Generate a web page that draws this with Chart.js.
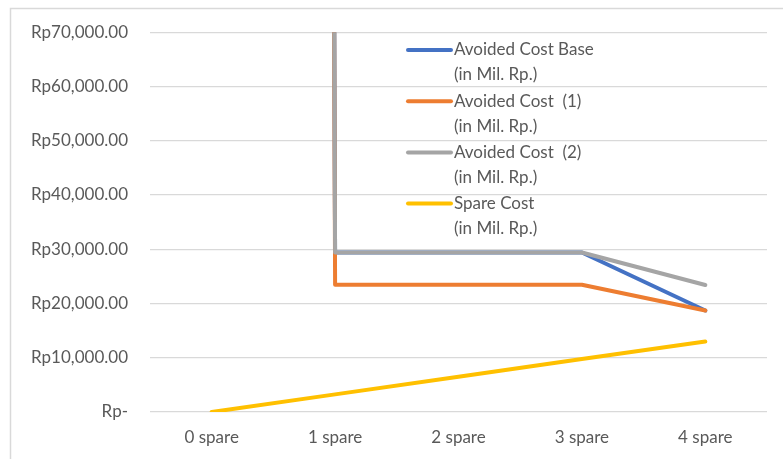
<!DOCTYPE html>
<html>
<head>
<meta charset="utf-8">
<script src="https://cdn.jsdelivr.net/npm/chart.js@4"></script>
<style>
  html, body { margin: 0; padding: 0; background: #ffffff; }
  #wrap { position: relative; width: 783px; height: 459px; }
</style>
</head>
<body>
<div id="wrap"><canvas id="c" width="783" height="459"></canvas></div>
<script>
// ---- data ----
const categories = ["0 spare", "1 spare", "2 spare", "3 spare", "4 spare"];
// value at "0 spare" is far off the scale (line runs vertically out of the top)
const avoidedCostBase = [100000000, 29400, 29400, 29400, 18700];
const avoidedCost1    = [100000000, 23450, 23450, 23450, 18700];
const avoidedCost2    = [100000000, 29400, 29400, 29400, 23400];
const spareCost       = [0, 3250, 6500, 9750, 13000];
const seriesNames = [
  ["Avoided Cost Base", "(in Mil. Rp.)"],
  ["Avoided Cost  (1)", "(in Mil. Rp.)"],
  ["Avoided Cost  (2)", "(in Mil. Rp.)"],
  ["Spare Cost", "(in Mil. Rp.)"]
];
const seriesColors = ["#4472C4", "#ED7D31", "#A5A5A5", "#FFC000"];
const yMin = 0, yMax = 70000, yStep = 10000;

const FONT = "Lato";
const TEXT = "#595959";

function fmtRp(v) {
  if (v === 0) return "Rp-";
  return "Rp" + v.toLocaleString("en-US", { minimumFractionDigits: 2, maximumFractionDigits: 2 });
}

const framePlugin = {
  id: "frame",
  beforeDraw(chart) {
    const ctx = chart.ctx;
    ctx.save();
    ctx.fillStyle = "#ffffff";
    ctx.fillRect(0, 0, chart.width, chart.height);
    ctx.strokeStyle = "#D9D9D9";
    ctx.lineWidth = 1.5;
    ctx.beginPath();
    ctx.moveTo(10.5, chart.height);
    ctx.lineTo(10.5, 8.5);
    ctx.lineTo(chart.width, 8.5);
    ctx.stroke();
    ctx.restore();
  }
};

const legendPlugin = {
  id: "customLegend",
  afterDraw(chart) {
    const ctx = chart.ctx;
    ctx.save();
    ctx.font = "17px " + FONT;
    ctx.fillStyle = TEXT;
    ctx.textBaseline = "middle";
    ctx.textAlign = "left";
    chart.data.datasets.forEach((ds, i) => {
      const y = 50 + i * 51.2;
      ctx.strokeStyle = ds.borderColor;
      ctx.lineWidth = 4;
      ctx.lineCap = "round";
      ctx.beginPath();
      ctx.moveTo(408, y);
      ctx.lineTo(451, y);
      ctx.stroke();
      seriesNames[i].forEach((t, j) => ctx.fillText(t, 454, y + j * 25));
    });
    ctx.restore();
  }
};

const seriesData = [avoidedCostBase, avoidedCost1, avoidedCost2, spareCost];
const datasets = seriesData.map((d, i) => ({
  label: seriesNames[i].join(" "),
  data: d,
  order: seriesData.length - i,
  borderColor: seriesColors[i],
  backgroundColor: seriesColors[i],
  borderWidth: 4,
  pointRadius: 0,
  pointHoverRadius: 0,
  tension: 0,
  borderCapStyle: "round",
  borderJoinStyle: "round",
  fill: false
}));

new Chart(document.getElementById("c"), {
  type: "line",
  data: { labels: categories, datasets },
  options: {
    responsive: false,
    animation: false,
    events: [],
    layout: { padding: { left: 0, right: 16, top: 31, bottom: 0 } },
    plugins: { legend: { display: false }, tooltip: { enabled: false } },
    scales: {
      x: {
        offset: true,
        grid: { display: false, drawTicks: false },
        border: { display: false },
        ticks: { color: TEXT, font: { family: FONT, size: 17 }, padding: 15, maxRotation: 0 },
        afterFit(s) { s.height = 47; }
      },
      y: {
        min: yMin, max: yMax,
        grid: { color: "#D9D9D9", lineWidth: 1.3, drawTicks: false },
        border: { display: false },
        ticks: {
          stepSize: yStep,
          color: TEXT,
          font: { family: FONT, size: 17 },
          padding: 22,
          callback: (v) => fmtRp(v)
        },
        afterFit(s) { s.width = 150; }
      }
    }
  },
  plugins: [framePlugin, legendPlugin]
});
</script>
</body>
</html>
